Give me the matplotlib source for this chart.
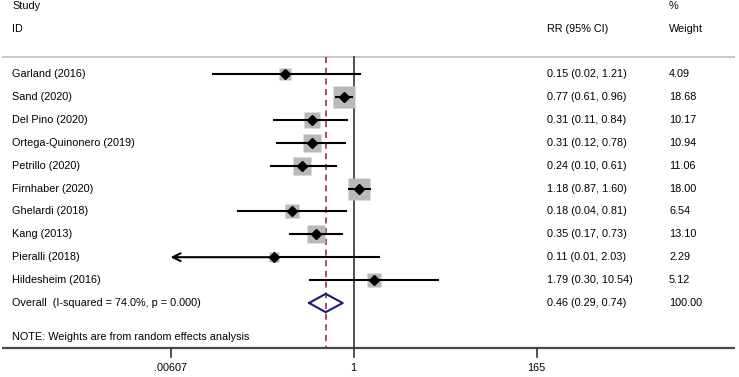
#!/usr/bin/env python3

import numpy as np
import matplotlib
matplotlib.use("Agg")
import matplotlib.pyplot as plt

plt.rcParams['font.family'] = ['Liberation Sans', 'DejaVu Sans']

studies = ["Garland (2016)", "Sand (2020)", "Del Pino (2020)",
           "Ortega-Quinonero (2019)", "Petrillo (2020)", "Firnhaber (2020)",
           "Ghelardi (2018)", "Kang (2013)", "Pieralli (2018)",
           "Hildesheim (2016)"]
rr = [0.15, 0.77, 0.31, 0.31, 0.24, 1.18, 0.18, 0.35, 0.11, 1.79]
ci_low = [0.02, 0.61, 0.11, 0.12, 0.10, 0.87, 0.04, 0.17, 0.005, 0.30]
ci_high = [1.21, 0.96, 0.84, 0.78, 0.61, 1.60, 0.81, 0.73, 2.03, 10.54]
rr_text = ["0.15 (0.02, 1.21)", "0.77 (0.61, 0.96)", "0.31 (0.11, 0.84)",
           "0.31 (0.12, 0.78)", "0.24 (0.10, 0.61)", "1.18 (0.87, 1.60)",
           "0.18 (0.04, 0.81)", "0.35 (0.17, 0.73)", "0.11 (0.01, 2.03)",
           "1.79 (0.30, 10.54)"]
weights = [4.09, 18.68, 10.17, 10.94, 11.06, 18.00, 6.54, 13.10, 2.29, 5.12]
weight_text = ["4.09", "18.68", "10.17", "10.94", "11.06", "18.00", "6.54",
               "13.10", "2.29", "5.12"]

overall_label = "Overall  (I-squared = 74.0%, p = 0.000)"
overall_rr = 0.46
overall_low = 0.29
overall_high = 0.74
overall_text = "0.46 (0.29, 0.74)"
overall_weight = "100.00"

xticks = [0.00607, 1, 165]
xtick_labels = [".00607", "1", "165"]

W, H = 739, 377
FS = 7.8
fig = plt.figure(figsize=(W / 100, H / 100), dpi=100)
ax = fig.add_axes([0, 0, 1, 1])
ax.set_xscale('log')

# pixel -> log10 mapping: 1 sits at px 353.5, ~82.55 px per decade
ppd = 82.55
x0 = 353.5
ax.set_xlim(10 ** ((0 - x0) / ppd), 10 ** ((W - x0) / ppd))
# rows: 22.9 px apart, first study at px 74
ax.set_ylim((H - 74) / 22.9, -74 / 22.9)
ax.axis('off')

n = len(studies)
rows = np.arange(n)
overall_row = n
axis_row = 11.97
top_row = -0.74
xmin_plot = xticks[0]
tr = ax.get_yaxis_transform()

def xfrac(px):
    return px / W

def label_row(y, a, b, c):
    ax.text(xfrac(12), y, a, transform=tr, fontsize=FS, va='center')
    ax.text(xfrac(547), y, b, transform=tr, fontsize=FS, va='center')
    ax.text(xfrac(669), y, c, transform=tr, fontsize=FS, va='center')

# header
label_row(-2.97, "Study", "", "%")
label_row(-1.97, "ID", "RR (95% CI)", "Weight")

# separator and axis lines
ax.plot([xfrac(2), xfrac(735)], [top_row, top_row], color='#c4c4c4', lw=1.3,
        transform=tr, solid_capstyle='butt')
ax.plot([xfrac(2), xfrac(735)], [axis_row, axis_row], color='#4a4a4a', lw=1.6,
        transform=tr, solid_capstyle='butt')

# null line and overall dashed line
ax.plot([1, 1], [top_row, axis_row], color='#333333', lw=1.2)
ax.plot([overall_rr, overall_rr], [top_row, axis_row], color='#8b2242', lw=1.1,
        dashes=(4, 3))

# ticks
for t, lab in zip(xticks, xtick_labels):
    ax.plot([t, t], [axis_row, axis_row + 0.4], color='#333333', lw=1.2)
    ax.text(t, 12.84, lab, fontsize=FS, ha='center', va='center')

# studies
for i in range(n):
    y = rows[i]
    side_px = 3.75 + 4.14 * np.sqrt(weights[i])
    ax.plot(rr[i], y, marker='s', ms=side_px * 0.72, color='#b9b9b9', mec='none')
    lo = ci_low[i]
    if lo < xmin_plot:
        ax.plot([rr[i], ci_high[i]], [y, y], color='black', lw=1.5)
        ax.annotate('', xy=(xmin_plot, y), xytext=(rr[i], y),
                    arrowprops=dict(arrowstyle='->', lw=1.5, color='black',
                                    shrinkA=0, shrinkB=0, mutation_scale=14))
    else:
        ax.plot([lo, ci_high[i]], [y, y], color='black', lw=1.5)
    ax.plot(rr[i], y, marker='D', ms=5.2, color='black')
    label_row(y, studies[i], rr_text[i], weight_text[i])

# overall diamond
dx = [overall_low, overall_rr, overall_high, overall_rr, overall_low]
dy = [overall_row, overall_row - 0.4, overall_row, overall_row + 0.4, overall_row]
ax.plot(dx, dy, color='#1c1c78', lw=1.5)
label_row(overall_row, overall_label, overall_text, overall_weight)

ax.text(xfrac(12), 11.5, "NOTE: Weights are from random effects analysis",
        transform=tr, fontsize=FS, va='center')

fig.savefig('out.png', dpi=100)
